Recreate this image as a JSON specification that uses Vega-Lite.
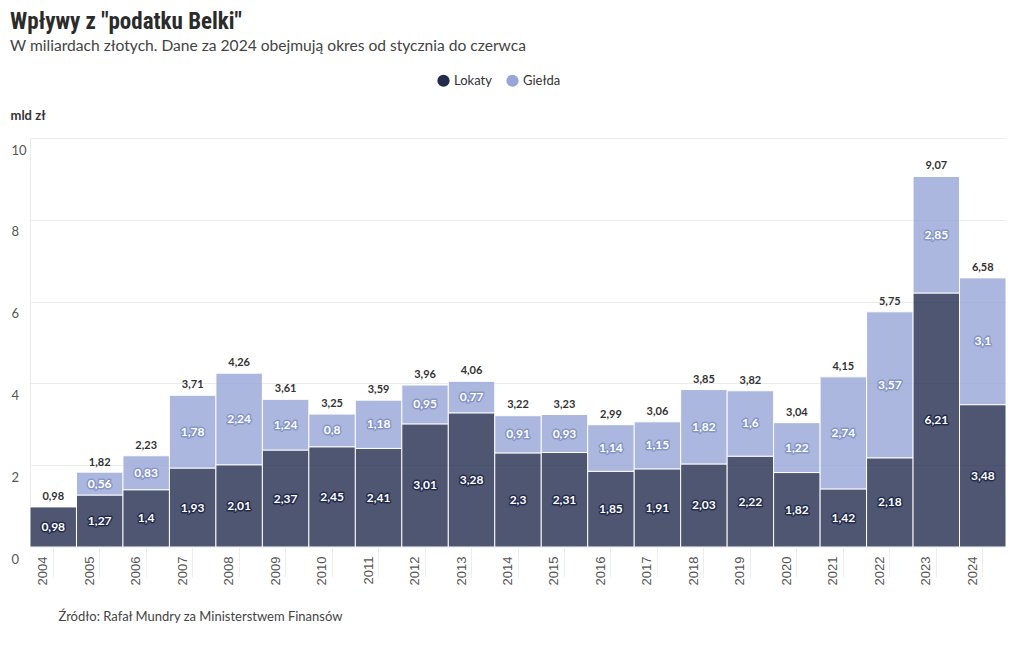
{
  "$schema": "https://vega.github.io/schema/vega-lite/v6.json",
  "width": 976,
  "height": 409,
  "padding": {"left": 10, "top": 11, "right": 14, "bottom": 10},
  "autosize": {"type": "pad"},
  "background": "white",
  "config": {
    "locale": {"number": {"decimal": ",", "thousands": " ", "grouping": [3], "currency": ["", " zł"]}},
    "view": {"stroke": null},
    "font": "Lato"
  },
  "title": {
    "text": "Wpływy z \"podatku Belki\"",
    "subtitle": "W miliardach złotych. Dane za 2024 obejmują okres od stycznia do czerwca",
    "anchor": "start",
    "frame": "bounds",
    "font": "Roboto Condensed, Liberation Sans Narrow, DejaVu Sans Condensed, Roboto",
    "fontSize": 23,
    "fontWeight": "bold",
    "color": "#2b2b2b",
    "subtitleFont": "Lato",
    "subtitleFontSize": 15.6,
    "subtitleColor": "#444444",
    "subtitlePadding": 5,
    "offset": 19
  },
  "datasets": {
    "parts": [
      {"year": "2004", "series": "Lokaty", "value": 0.98},
      {"year": "2005", "series": "Lokaty", "value": 1.27},
      {"year": "2005", "series": "Giełda", "value": 0.56},
      {"year": "2006", "series": "Lokaty", "value": 1.4},
      {"year": "2006", "series": "Giełda", "value": 0.83},
      {"year": "2007", "series": "Lokaty", "value": 1.93},
      {"year": "2007", "series": "Giełda", "value": 1.78},
      {"year": "2008", "series": "Lokaty", "value": 2.01},
      {"year": "2008", "series": "Giełda", "value": 2.24},
      {"year": "2009", "series": "Lokaty", "value": 2.37},
      {"year": "2009", "series": "Giełda", "value": 1.24},
      {"year": "2010", "series": "Lokaty", "value": 2.45},
      {"year": "2010", "series": "Giełda", "value": 0.8},
      {"year": "2011", "series": "Lokaty", "value": 2.41},
      {"year": "2011", "series": "Giełda", "value": 1.18},
      {"year": "2012", "series": "Lokaty", "value": 3.01},
      {"year": "2012", "series": "Giełda", "value": 0.95},
      {"year": "2013", "series": "Lokaty", "value": 3.28},
      {"year": "2013", "series": "Giełda", "value": 0.77},
      {"year": "2014", "series": "Lokaty", "value": 2.3},
      {"year": "2014", "series": "Giełda", "value": 0.91},
      {"year": "2015", "series": "Lokaty", "value": 2.31},
      {"year": "2015", "series": "Giełda", "value": 0.93},
      {"year": "2016", "series": "Lokaty", "value": 1.85},
      {"year": "2016", "series": "Giełda", "value": 1.14},
      {"year": "2017", "series": "Lokaty", "value": 1.91},
      {"year": "2017", "series": "Giełda", "value": 1.15},
      {"year": "2018", "series": "Lokaty", "value": 2.03},
      {"year": "2018", "series": "Giełda", "value": 1.82},
      {"year": "2019", "series": "Lokaty", "value": 2.22},
      {"year": "2019", "series": "Giełda", "value": 1.6},
      {"year": "2020", "series": "Lokaty", "value": 1.82},
      {"year": "2020", "series": "Giełda", "value": 1.22},
      {"year": "2021", "series": "Lokaty", "value": 1.42},
      {"year": "2021", "series": "Giełda", "value": 2.74},
      {"year": "2022", "series": "Lokaty", "value": 2.18},
      {"year": "2022", "series": "Giełda", "value": 3.57},
      {"year": "2023", "series": "Lokaty", "value": 6.21},
      {"year": "2023", "series": "Giełda", "value": 2.85},
      {"year": "2024", "series": "Lokaty", "value": 3.48},
      {"year": "2024", "series": "Giełda", "value": 3.1}
    ],
    "totals": [
      {"year": "2004", "total": 0.98},
      {"year": "2005", "total": 1.82},
      {"year": "2006", "total": 2.23},
      {"year": "2007", "total": 3.71},
      {"year": "2008", "total": 4.26},
      {"year": "2009", "total": 3.61},
      {"year": "2010", "total": 3.25},
      {"year": "2011", "total": 3.59},
      {"year": "2012", "total": 3.96},
      {"year": "2013", "total": 4.06},
      {"year": "2014", "total": 3.22},
      {"year": "2015", "total": 3.23},
      {"year": "2016", "total": 2.99},
      {"year": "2017", "total": 3.06},
      {"year": "2018", "total": 3.85},
      {"year": "2019", "total": 3.82},
      {"year": "2020", "total": 3.04},
      {"year": "2021", "total": 4.15},
      {"year": "2022", "total": 5.75},
      {"year": "2023", "total": 9.07},
      {"year": "2024", "total": 6.58}
    ]
  },
  "encoding": {
    "x": {
      "field": "year",
      "type": "nominal",
      "sort": null,
      "scale": {"paddingInner": 0, "paddingOuter": 0},
      "axis": {
        "title": "Źródło: Rafał Mundry za Ministerstwem Finansów",
        "titleFont": "Lato",
        "titleFontSize": 13,
        "titleFontWeight": "normal",
        "titleColor": "#444444",
        "titleAnchor": "start",
        "titleAlign": "left",
        "titleBaseline": "middle",
        "titleX": 28,
        "titleY": 69,
        "labelAngle": -90,
        "labelAlign": "right",
        "labelBaseline": "middle",
        "labelOffset": -10,
        "labelPadding": -21,
        "labelFontSize": 13,
        "labelColor": "#555555",
        "labelFont": "Liberation Sans",
        "tickSize": 30,
        "tickColor": "#eeeeee",
        "domain": false
      }
    }
  },
  "layer": [
    {
      "data": {"name": "parts"},
      "mark": {"type": "bar", "opacity": 0.8, "stroke": "white", "strokeWidth": 1},
      "encoding": {
        "y": {
          "field": "value",
          "type": "quantitative",
          "stack": "zero",
          "scale": {"domain": [0, 10]},
          "axis": {
            "title": "mld zł",
            "titleAngle": 0,
            "titleAlign": "left",
            "titleBaseline": "middle",
            "titleX": -20,
            "titleY": -23,
            "titleFont": "Lato",
            "titleFontSize": 13,
            "titleFontWeight": "bold",
            "titleColor": "#333333",
            "values": [0, 2, 4, 6, 8, 10],
            "labelAlign": "left",
            "labelBaseline": "middle",
            "labelOffset": 12,
            "labelPadding": 19,
            "labelFontSize": 13,
            "labelColor": "#555555",
            "ticks": false,
            "tickSize": 0,
            "grid": true,
            "gridColor": "#ebebeb",
            "domainColor": "#ebebeb"
          }
        },
        "color": {
          "field": "series",
          "type": "nominal",
          "scale": {"domain": ["Lokaty", "Giełda"], "range": ["#242c4e", "#97a6d6"]},
          "legend": {
            "title": null,
            "orient": "none",
            "direction": "horizontal",
            "legendX": 407,
            "legendY": -64,
            "symbolType": "circle",
            "symbolSize": 150,
            "symbolOpacity": 1,
            "symbolStrokeWidth": 0,
            "labelFontSize": 13,
            "labelColor": "#333333",
            "labelFont": "Lato",
            "columnPadding": 14,
            "symbolOffset": 0
          }
        },
        "order": {"field": "series", "sort": "descending"}
      }
    },
    {
      "data": {"name": "parts"},
      "mark": {"type": "text", "fill": "white", "strokeWidth": 3, "strokeJoin": "round", "fontSize": 12, "fontWeight": "bold", "font": "Lato", "baseline": "middle"},
      "encoding": {
        "y": {"field": "value", "type": "quantitative", "stack": "zero", "bandPosition": 0.5},
        "text": {"field": "value", "type": "quantitative", "format": ".2~f"},
        "stroke": {"field": "series", "type": "nominal", "scale": {"domain": ["Lokaty", "Giełda"], "range": ["#242c4e", "#8796c8"]}, "legend": null},
        "order": {"field": "series", "sort": "descending"}
      }
    },
    {
      "data": {"name": "parts"},
      "mark": {"type": "text", "fill": "white", "fontSize": 12, "fontWeight": "bold", "font": "Lato", "baseline": "middle"},
      "encoding": {
        "y": {"field": "value", "type": "quantitative", "stack": "zero", "bandPosition": 0.5},
        "text": {"field": "value", "type": "quantitative", "format": ".2~f"},
        "detail": {"field": "series", "type": "nominal"},
        "order": {"field": "series", "sort": "descending"}
      }
    },
    {
      "data": {"name": "totals"},
      "mark": {"type": "text", "fontSize": 11, "fontWeight": "bold", "font": "Lato", "color": "#333333", "baseline": "bottom", "dy": -5},
      "encoding": {
        "y": {"field": "total", "type": "quantitative"},
        "text": {"field": "total", "type": "quantitative", "format": ".2f"}
      }
    }
  ]
}
